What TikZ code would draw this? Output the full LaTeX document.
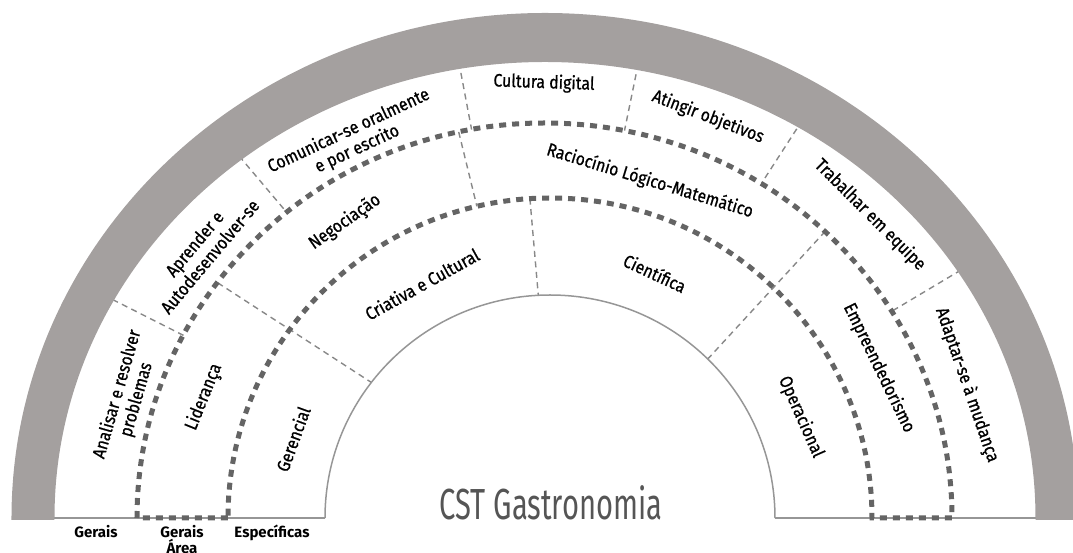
\documentclass[tikz,border=0pt]{standalone}
\usepackage{fontspec}
\setmainfont{Fira Sans}
\newfontfamily\lblfont[FakeStretch=0.88,FakeBold=0.8]{Fira Sans}
\newfontfamily\ttlfont[FakeStretch=0.67]{Fira Sans}
\usetikzlibrary{calc}
\definecolor{bandgray}{RGB}{164,160,159}
\definecolor{dotgray}{RGB}{100,100,100}
\definecolor{dashgray}{RGB}{136,136,136}
\definecolor{linegray}{RGB}{150,150,150}
\definecolor{titlegray}{RGB}{85,85,85}
\begin{document}
\begin{tikzpicture}[x=1pt,y=1pt,
  dotline/.style={draw=dotgray,line width=5pt,dash pattern=on 7pt off 6pt},
  radial/.style={draw=dashgray,line width=1.4pt,dash pattern=on 6pt off 4.5pt},
  thinline/.style={draw=linegray,line width=1.8pt},
  lbl/.style={font=\lblfont\fontsize{18}{20}\selectfont,align=center,inner sep=0pt},
  bot/.style={font=\bfseries\fontsize{15}{16.5}\selectfont,align=center,inner sep=0pt,anchor=north},
]
\useasboundingbox (-545,-35) rectangle (528,518);
\clip (-545,-35) rectangle (528,518);

% outer ring radial separators
\foreach \a/\r [count=\i] in {153.2/404.7,130.2/400.1,100.7/395.3,78.4/395.5,57.1/398.6,30.8/404.1}{
  \coordinate (ro\i) at (\a:495);
  \coordinate (ri\i) at (\a:\r);
  \draw[radial] (ro\i) -- (ri\i);
}
% middle / inner ring separators
\coordinate (m1a) at (144.3:403);
\coordinate (m1b) at (-173.4,135.4);
\coordinate (m2a) at (102.6:395.6);
\coordinate (m2b) at (-68.1,311.7);
\coordinate (m3a) at (45.65:401);
\coordinate (m3b) at (162.8,159);
\coordinate (m4a) at (-15.1,319.4);
\coordinate (m4b) at (-6.7,222.7);
\draw[radial] (m1a) -- (m1b);
\draw[radial] (m2a) -- (m2b);
\draw[radial] (m3a) -- (m3b);
\draw[radial] (m4a) -- (m4b);

% base line and inner semicircle
\draw[thinline] (-491,0) -- (-220,0);
\draw[thinline] (230,0) -- (491,0);
\draw[thinline,line width=1.5pt] (-220,0) arc[start angle=180,end angle=0,x radius=225,y radius=223];

% dotted boundaries of the middle ring
\draw[dotline] (-317,0) -- (-408,0) arc[start angle=180,end angle=0,x radius=407.5,y radius=395]
   -- (327,0) arc[start angle=0,end angle=180,x radius=322,y radius=320] -- cycle;

% grey outer band
\fill[bandgray] (-533.5,-2) -- (-533.5,0) arc[start angle=180,end angle=0,x radius=533.5,y radius=505]
   -- (533.5,-2) -- (490.5,-2) -- (490.5,0) arc[start angle=0,end angle=180,x radius=490.5,y radius=456]
   -- (-490.5,-2) -- cycle;

% outer ring labels
\node[lbl,rotate=74] (analisar) at (-418,121) {Analisar e resolver\\problemas};
\node[lbl,rotate=50] (aprender) at (-343,268) {Aprender e\\Autodesenvolver-se};
\node[lbl,rotate=25] (comunicar) at (-192,378) {Comunicar-se oralmente\\e por escrito};
\node[lbl,rotate=-2] (cultura) at (-1,435) {Cultura digital};
\node[lbl,rotate=-21] (atingir) at (163,401) {Atingir objetivos};
\node[lbl,rotate=-45] (trabalhar) at (325,303) {Trabalhar em equipe};
\node[lbl,rotate=-71] (adaptar) at (422,133) {Adaptar-se à mudança};

% middle ring labels
\node[lbl,rotate=68] (lideranca) at (-341,121) {Liderança};
\node[lbl,rotate=35] (negociacao) at (-200,296) {Negociação};
\node[lbl,rotate=-17] (raciocinio) at (105,337) {Raciocínio Lógico-Matemático};
\node[lbl,rotate=-64] (empreend) at (334,150) {Empreendedorismo};

% inner ring labels
\node[lbl,rotate=70] (gerencial) at (-252,79) {Gerencial};
\node[lbl,rotate=29] (criativa) at (-123,234) {Criativa e Cultural};
\node[lbl,rotate=-25] (cientifica) at (110,245) {Científica};
\node[lbl,rotate=-66] (operacional) at (256,101) {Operacional};

% title
\node[font=\ttlfont\fontsize{43.5}{44}\selectfont,text=titlegray,anchor=base,inner sep=0pt] (title) at (6,-2) {CST Gastronomia};

% bottom labels
\node[bot] (gerais) at (-449,-7) {Gerais};
\node[bot] (geraisarea) at (-363,-7) {Gerais\\Área};
\node[bot] (especificas) at (-273,-7) {Específicas};
\end{tikzpicture}
\end{document}
